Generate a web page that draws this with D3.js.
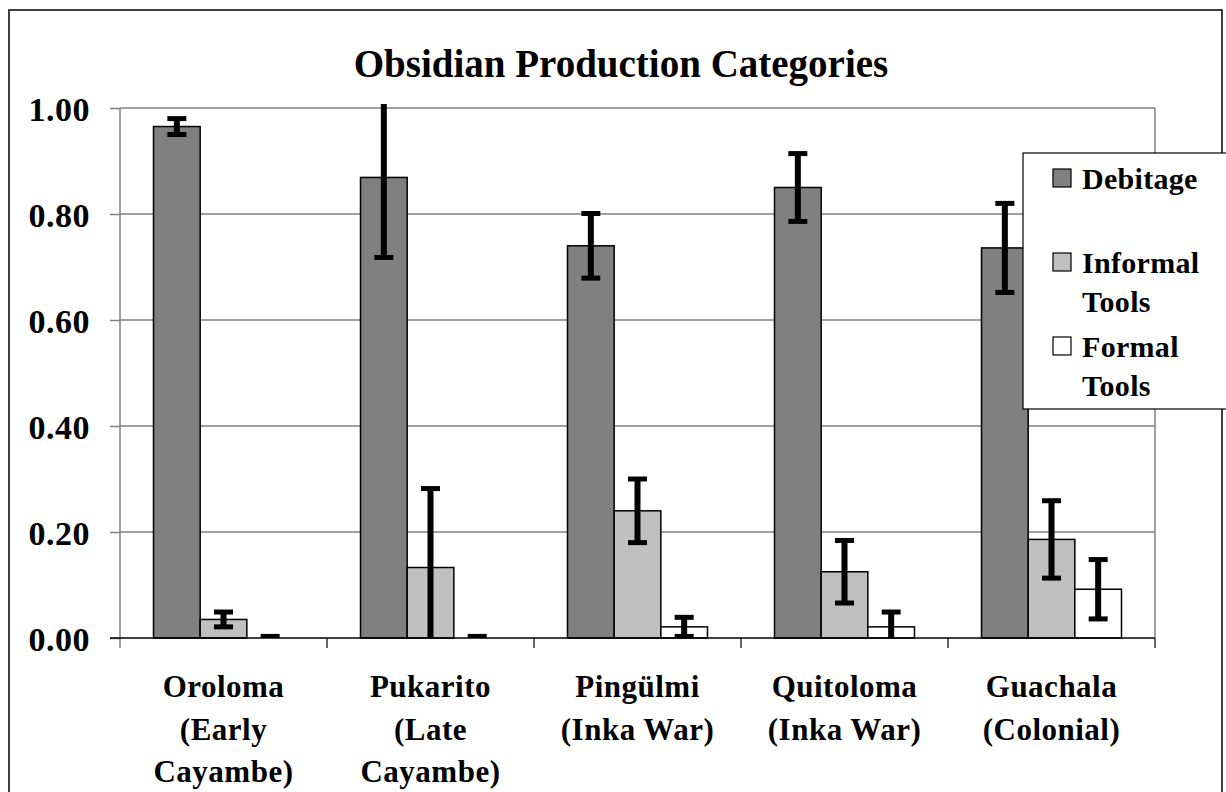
<!DOCTYPE html>
<html>
<head>
<meta charset="utf-8">
<script src="https://cdn.jsdelivr.net/npm/d3@7"></script>
<style>
  html, body { margin: 0; padding: 0; background: #fff; }
  svg { display: block; }
  text { font-family: "Liberation Serif", "Times New Roman", serif; font-weight: bold; fill: #000; }
</style>
</head>
<body>
<script>
// ---- data ----
const categories = ["Oroloma (Early Cayambe)", "Pukarito (Late Cayambe)", "Pingülmi (Inka War)", "Quitoloma (Inka War)", "Guachala (Colonial)"];
const categoryLines = [["Oroloma", "(Early", "Cayambe)"], ["Pukarito", "(Late", "Cayambe)"], ["Pingülmi", "(Inka War)"], ["Quitoloma", "(Inka War)"], ["Guachala", "(Colonial)"]];
const seriesNames = ["Debitage", "Informal Tools", "Formal Tools"];
const legendLines = [["Debitage"], ["Informal", "Tools"], ["Formal", "Tools"]];
const debitage = [0.965, 0.869, 0.740, 0.850, 0.736];
const informal = [0.035, 0.133, 0.240, 0.125, 0.186];
const formal = [0.000, 0.000, 0.021, 0.021, 0.092];
const debitageErr = [0.015, 0.151, 0.061, 0.064, 0.084];
const informalErr = [0.014, 0.149, 0.060, 0.059, 0.073];
const formalErr = [0.003, 0.003, 0.018, 0.028, 0.056];
const yTicks = [0, 0.2, 0.4, 0.6, 0.8, 1.0];
const title = "Obsidian Production Categories";

const seriesValues = [debitage, informal, formal];
const seriesErrors = [debitageErr, informalErr, formalErr];
const seriesFill = ["#808080", "#c0c0c0", "#ffffff"];

// ---- layout ----
const W = 1226, H = 792;
const plot = { left: 120, right: 1155, top: 108, bottom: 638 };

const svg = d3.select("body").append("svg").attr("width", W).attr("height", H);

// outer frame
svg.append("rect").attr("x", 9).attr("y", 10).attr("width", 1213).attr("height", 800)
  .attr("fill", "none").attr("stroke", "#000").attr("stroke-width", 1.5);

const x0 = d3.scaleBand().domain(categories).range([plot.left, plot.right]).paddingInner(0).paddingOuter(0);
const x1 = d3.scaleBand().domain(seriesNames).range([0, x0.bandwidth()]).paddingInner(0).paddingOuter(0.718);
const y = d3.scaleLinear().domain([0, 1]).range([plot.bottom, plot.top]);

// title
svg.append("text").attr("x", 621).attr("y", 77).attr("text-anchor", "middle")
  .style("font-size", "39px").text(title);

// gridlines
svg.append("g").selectAll("line").data(yTicks.filter(d => d > 0)).join("line")
  .attr("x1", plot.left).attr("x2", plot.right)
  .attr("y1", d => y(d)).attr("y2", d => y(d))
  .attr("stroke", "#808080").attr("stroke-width", 1.5);

// right border of plot area
svg.append("line").attr("x1", plot.right).attr("x2", plot.right)
  .attr("y1", y(1)).attr("y2", y(0)).attr("stroke", "#808080").attr("stroke-width", 1.5);

// y axis
const yAxis = d3.axisLeft(y).tickValues(yTicks).tickFormat(d3.format(".2f")).tickSize(10).tickPadding(20);
const gy = svg.append("g").attr("transform", `translate(${plot.left},0)`).call(yAxis);
gy.select(".domain").attr("stroke", "#808080").attr("stroke-width", 1.5).attr("d", `M0,${y(1)}V${y(0) + 10}`);
gy.selectAll(".tick line").attr("stroke", "#808080").attr("stroke-width", 1.5);
gy.selectAll(".tick text").style("font-size", "34px").attr("dy", "0.36em")
  .style("letter-spacing", "0.5px").attr("x", -30);

// bars
const groups = svg.append("g").selectAll("g").data(categories).join("g")
  .attr("transform", d => `translate(${x0(d)},0)`);

const barData = (c, i) => seriesNames.map((s, k) => ({ s, k, v: seriesValues[k][i], e: seriesErrors[k][i] }));

groups.each(function (c, i) {
  const g = d3.select(this);
  const data = barData(c, i);
  g.selectAll("rect").data(data.filter(d => d.v > 0)).join("rect")
    .attr("x", d => x1(d.s)).attr("width", x1.bandwidth())
    .attr("y", d => y(d.v)).attr("height", d => y(0) - y(d.v))
    .attr("fill", d => seriesFill[d.k]).attr("stroke", "#000").attr("stroke-width", 1.5);
});

// x axis line & ticks
const xAxisG = svg.append("g");
xAxisG.append("line").attr("x1", plot.left - 10).attr("x2", plot.right).attr("y1", y(0)).attr("y2", y(0))
  .attr("stroke", "#000").attr("stroke-width", 1.5);
const boundaries = categories.map(c => x0(c) + x0.bandwidth());
xAxisG.selectAll("line.tk").data(boundaries).join("line").attr("class", "tk")
  .attr("x1", d => d).attr("x2", d => d).attr("y1", y(0)).attr("y2", y(0) + 10)
  .attr("stroke", "#000").attr("stroke-width", 1.2);

// error bars (clipped to plot area)
svg.append("clipPath").attr("id", "clip").append("rect")
  .attr("x", plot.left).attr("y", y(1) - 4).attr("width", plot.right - plot.left).attr("height", y(0) - y(1) + 4);
const eg = svg.append("g").attr("clip-path", "url(#clip)");
categories.forEach((c, i) => {
  barData(c, i).forEach(d => {
    const cx = x0(c) + x1(d.s) + x1.bandwidth() / 2;
    const yt = y(d.v + d.e), yb = y(d.v - d.e);
    eg.append("line").attr("x1", cx).attr("x2", cx).attr("y1", yt).attr("y2", yb)
      .attr("stroke", "#000").attr("stroke-width", 6);
    [yt, yb].forEach(yy => {
      eg.append("line").attr("x1", cx - 9.5).attr("x2", cx + 9.5).attr("y1", yy).attr("y2", yy)
        .attr("stroke", "#000").attr("stroke-width", 5);
    });
  });
});

// category labels
const xl = svg.append("g");
categories.forEach((c, i) => {
  const t = xl.append("text").attr("text-anchor", "middle").style("font-size", "31px").style("letter-spacing", "0.5px");
  categoryLines[i].forEach((ln, j) => {
    t.append("tspan").attr("x", x0(c) + x0.bandwidth() / 2).attr("y", 697 + j * 42.5).text(ln);
  });
});

// legend
const lg = svg.append("g");
lg.append("rect").attr("x", 1023).attr("y", 153).attr("width", 230).attr("height", 256)
  .attr("fill", "#fff").attr("stroke", "#000").attr("stroke-width", 1.2);
const legendY = [189, 273, 357];
seriesNames.forEach((s, k) => {
  lg.append("rect").attr("x", 1053).attr("y", legendY[k] - 20).attr("width", 18).attr("height", 18)
    .attr("fill", seriesFill[k]).attr("stroke", "#000").attr("stroke-width", 1.2);
  const t = lg.append("text").style("font-size", "30px").style("letter-spacing", "0.3px");
  legendLines[k].forEach((ln, j) => {
    t.append("tspan").attr("x", 1082).attr("y", legendY[k] + j * 39).text(ln);
  });
});
</script>
</body>
</html>
